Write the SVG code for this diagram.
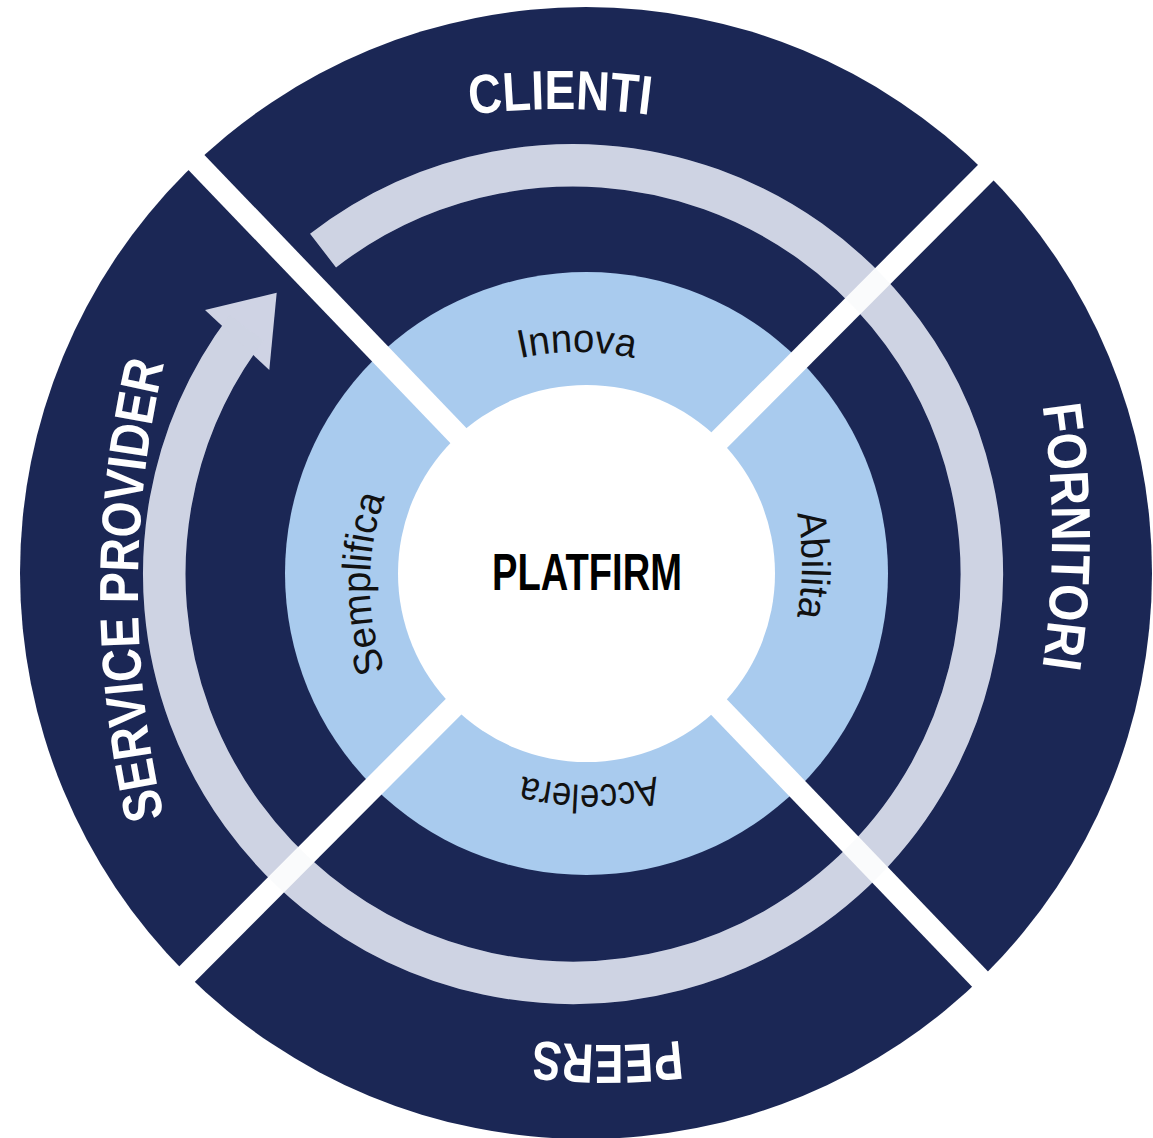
<svg xmlns="http://www.w3.org/2000/svg" width="1153" height="1138" viewBox="0 0 1153 1138">
  <style>
    .navy { fill: #1b2755; }
    .ice { fill: #a9cbee; }
    .outer { font-family: "Liberation Sans", Arial, sans-serif; font-weight: bold; font-size: 55px; fill: #ffffff; }
    .inner { font-family: "Liberation Sans", Arial, sans-serif; font-size: 40px; fill: #111111; }
    .center { font-family: "Liberation Sans", Arial, sans-serif; font-weight: bold; font-size: 52px; fill: #000000; }
    .gap { stroke: #ffffff; stroke-width: 22; fill: none; }
    .flow { stroke: #cfd3e4; stroke-width: 42.5; fill: none; }
  </style>
  <defs>
    <path id="pClienti" d="M264.17,174.58 A700,700 0 0 1 855.83,174.58"/>
    <path id="pFornitori" d="M997.72,228.68 A900,900 0 0 1 997.72,844.32"/>
    <path id="pPeers" d="M861.07,988.79 A600,600 0 0 1 353.93,988.79"/>
    <path id="pService" d="M198.31,932.02 A1000,1000 0 0 1 198.31,247.98"/>
    <path id="pInnova" d="M409.87,412.83 A260,260 0 0 1 744.13,412.83"/>
    <path id="pAbilita" d="M741.17,397.87 A260,260 0 0 1 741.17,732.13"/>
    <path id="pAccelera" d="M756.63,724.17 A260,260 0 0 1 422.37,724.17"/>
    <path id="pSemplifica" d="M430.83,750.63 A260,260 0 0 1 430.83,416.37"/>
  </defs>

  <g id="outer-ring">
    <circle class="navy" cx="586" cy="573" r="566"/>
  </g>

  <g id="connectors">
    <path id="flow-arrow" class="flow" d="M323.04,250.59 A408.75,408.75 0 1 1 246.56,328.0"/>
    <polygon id="flow-arrowhead" fill="#cfd3e4" points="205,310 276.7,292.7 269.3,370"/>
  </g>

  <g id="inner-ring">
    <circle class="ice" cx="586.5" cy="573.5" r="301.5"/>
    <circle fill="#ffffff" cx="586.5" cy="573.5" r="188.5"/>
  </g>

  <g id="dividers">
    <line class="gap" x1="148" y1="112" x2="1029.3" y2="1030.5"/>
    <line class="gap" x1="1034.9" y1="123.4" x2="136.4" y2="1024.9"/>
    <path class="flow" opacity="0.1" d="M323.04,250.59 A408.75,408.75 0 1 1 246.56,328.0"/>
  </g>

  <g id="node-clienti">
    <text class="outer" text-anchor="middle"><textPath href="#pClienti" startOffset="50%" textLength="180" lengthAdjust="spacingAndGlyphs">CLIENTI</textPath></text>
  </g>
  <g id="node-fornitori">
    <text class="outer" text-anchor="middle"><textPath href="#pFornitori" startOffset="50%" textLength="263" lengthAdjust="spacingAndGlyphs">FORNITORI</textPath></text>
  </g>
  <g id="node-peers">
    <text class="outer" text-anchor="middle"><textPath href="#pPeers" startOffset="50%" textLength="147" lengthAdjust="spacingAndGlyphs">PEERS</textPath></text>
  </g>
  <g id="node-service-provider">
    <text class="outer" text-anchor="middle"><textPath href="#pService" startOffset="50%" textLength="458" lengthAdjust="spacingAndGlyphs">SERVICE PROVIDER</textPath></text>
  </g>

  <g id="node-innova">
    <text class="inner" text-anchor="middle"><textPath href="#pInnova" startOffset="50%" textLength="115" lengthAdjust="spacingAndGlyphs">Innova</textPath></text>
  </g>
  <g id="node-abilita">
    <text class="inner" text-anchor="middle"><textPath href="#pAbilita" startOffset="50%" textLength="104" lengthAdjust="spacingAndGlyphs">Abilita</textPath></text>
  </g>
  <g id="node-accelera">
    <text class="inner" text-anchor="middle"><textPath href="#pAccelera" startOffset="50%" textLength="135" lengthAdjust="spacingAndGlyphs">Accelera</textPath></text>
  </g>
  <g id="node-semplifica">
    <text class="inner" text-anchor="middle"><textPath href="#pSemplifica" startOffset="50%" textLength="177" lengthAdjust="spacingAndGlyphs">Semplifica</textPath></text>
  </g>

  <g id="node-platfirm">
    <text class="center" x="587" y="590" text-anchor="middle" textLength="190" lengthAdjust="spacingAndGlyphs">PLATFIRM</text>
  </g>
</svg>
